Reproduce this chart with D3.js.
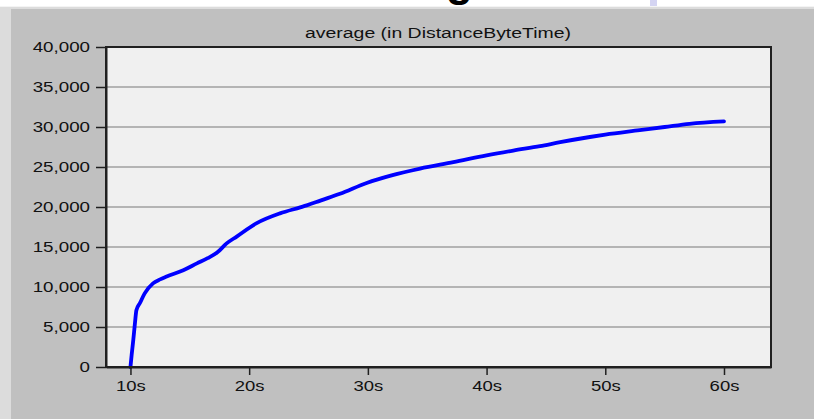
<!DOCTYPE html>
<html>
<head>
<meta charset="utf-8">
<script src="https://cdn.jsdelivr.net/npm/d3@7"></script>
<style>
  html, body { margin: 0; padding: 0; background: #ffffff; }
  svg { display: block; }
  text { font-family: "Liberation Sans", Arial, sans-serif; }
</style>
</head>
<body>
<svg id="chart" width="814" height="419"></svg>
<script>
// ---- data ----
const chartTitle = "average (in DistanceByteTime)";
const timeSec = [10.0, 10.1, 10.24, 10.38, 10.5, 10.8, 11.2, 11.9, 12.5, 13.05, 14.45, 15.6, 16.5, 17.3, 18.1, 18.95, 20.6, 22.6, 24.3, 24.85, 26.0, 27.65, 29.9, 32.0, 34.4, 37.2, 40.0, 42.25, 44.5, 46.2, 48.7, 50.0, 52.9, 55.0, 57.1, 60.0];
const avgValue = [0, 1500, 3400, 5500, 7100, 8000, 9200, 10450, 10950, 11300, 12100, 12950, 13600, 14300, 15450, 16300, 17950, 19200, 19950, 20200, 20800, 21650, 23000, 23950, 24800, 25600, 26450, 27050, 27600, 28100, 28750, 29050, 29600, 30000, 30400, 30700];
const xTicks = [10, 20, 30, 40, 50, 60];
const yTicks = [0, 5000, 10000, 15000, 20000, 25000, 30000, 35000, 40000];

const svg = d3.select("#chart");
const W = 814, H = 419;
const plot = { left: 106, right: 771, top: 47, bottom: 367 };

// background panels
svg.append("rect").attr("x", 0).attr("y", 7).attr("width", W).attr("height", H - 7).attr("fill", "#dcdcdc");
svg.append("rect").attr("x", 11).attr("y", 9).attr("width", W - 11).attr("height", H - 9).attr("fill", "#c0c0c0");

// cut-off fragments at the top (as in the reference)
svg.append("text").attr("x", 446).attr("y", -4)
  .attr("font-size", 44).attr("font-weight", "bold").attr("fill", "#000").text("g");
svg.append("rect").attr("x", 650).attr("y", 0).attr("width", 7).attr("height", 6).attr("fill", "#d4d4f2");
svg.append("rect").attr("x", 0).attr("y", 6).attr("width", W).attr("height", 1).attr("fill", "#f4f4f4");

const x = d3.scaleLinear().domain([7.94, 63.96]).range([plot.left, plot.right]);
const y = d3.scaleLinear().domain([0, 40000]).range([plot.bottom, plot.top]);

// plot area
svg.append("rect").attr("x", plot.left).attr("y", plot.top)
  .attr("width", plot.right - plot.left).attr("height", plot.bottom - plot.top)
  .attr("fill", "#f0f0f0");

// horizontal grid
svg.append("g").selectAll("line").data(yTicks.filter(d => d > 0 && d < 40000)).join("line")
  .attr("x1", plot.left).attr("x2", plot.right)
  .attr("y1", d => y(d)).attr("y2", d => y(d))
  .attr("stroke", "#a0a0a0").attr("stroke-width", 1.6);

// data line
const line = d3.line().x((d, i) => x(timeSec[i])).y(d => y(d)).curve(d3.curveMonotoneX);
svg.append("path").datum(avgValue)
  .attr("d", line)
  .attr("fill", "none").attr("stroke", "#0000ff")
  .attr("stroke-width", 3.8).attr("stroke-linecap", "round").attr("stroke-linejoin", "round");

// frame
svg.append("rect").attr("x", plot.left).attr("y", plot.top)
  .attr("width", plot.right - plot.left).attr("height", plot.bottom - plot.top)
  .attr("fill", "none").attr("stroke", "#202020").attr("stroke-width", 2);

// axes
const yAxis = d3.axisLeft(y).tickValues(yTicks).tickFormat(d3.format(",")).tickSizeInner(10).tickSizeOuter(0).tickPadding(6);
const gy = svg.append("g").attr("transform", `translate(${plot.left},0)`).call(yAxis);
const xAxis = d3.axisBottom(x).tickValues(xTicks).tickFormat(d => d + "s").tickSizeInner(8).tickSizeOuter(0).tickPadding(6);
const gx = svg.append("g").attr("transform", `translate(0,${plot.bottom})`).call(xAxis);

[gx, gy].forEach(g => {
  g.select(".domain").attr("stroke", "#202020").attr("stroke-width", 2);
  g.selectAll(".tick line").attr("stroke", "#202020").attr("stroke-width", 1.5);
  g.selectAll(".tick text").attr("font-size", 14).attr("fill", "#111")
    .attr("font-family", "'Liberation Sans', Arial, sans-serif");
});
gy.selectAll(".tick text").attr("dy", "0.34em");

// widen labels horizontally to match the stretched look
function stretch(sel, f) {
  sel.each(function () {
    const w = this.getComputedTextLength();
    d3.select(this).attr("textLength", w * f).attr("lengthAdjust", "spacingAndGlyphs");
  });
}
stretch(gy.selectAll(".tick text"), 1.34);
stretch(gx.selectAll(".tick text"), 1.32);

// title
svg.append("text").attr("x", 438).attr("y", 38)
  .attr("text-anchor", "middle").attr("font-size", 14).attr("fill", "#111")
  .attr("textLength", 266).attr("lengthAdjust", "spacingAndGlyphs")
  .text(chartTitle);
</script>
</body>
</html>
